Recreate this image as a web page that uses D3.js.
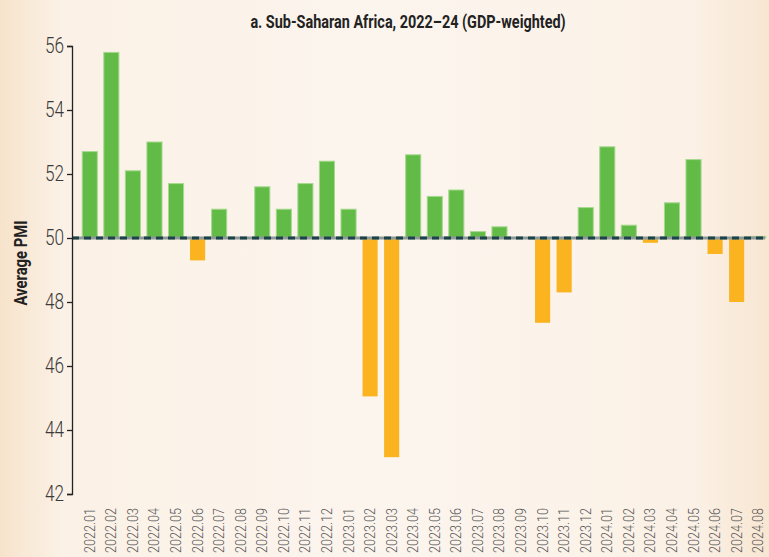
<!DOCTYPE html>
<html lang="en">
<head>
<meta charset="UTF-8">
<script src="https://cdn.jsdelivr.net/npm/d3@7"></script>
<title>Average PMI</title>
<style>
    body { margin: 0; }
    svg text { font-family: Roboto, "Liberation Sans", sans-serif; }
    .y-axis text { font-size: 22px; fill: #3a3a3a; font-weight: 300; }
    .x-label { font-size: 14px; fill: #555; font-weight: 300; }
</style>
</head>
<body>
<div id="chart"></div>
<script>
    const months = ["2022.01","2022.02","2022.03","2022.04","2022.05","2022.06","2022.07","2022.08",
        "2022.09","2022.10","2022.11","2022.12","2023.01","2023.02","2023.03","2023.04",
        "2023.05","2023.06","2023.07","2023.08","2023.09","2023.10","2023.11","2023.12",
        "2024.01","2024.02","2024.03","2024.04","2024.05","2024.06","2024.07","2024.08"];
    const pmi = [52.7, 55.8, 52.1, 53.0, 51.7, 49.3, 50.9, null,
        51.6, 50.9, 51.7, 52.4, 50.9, 45.05, 43.15, 52.6,
        51.3, 51.5, 50.2, 50.35, null, 47.35, 48.3, 50.95,
        52.85, 50.4, 49.85, 51.1, 52.45, 49.5, 48.0, 50.05];
    const yTicks = [42, 44, 46, 48, 50, 52, 54, 56];

    const width = 769, height = 557;
    const threshold = 50;
    const squeeze = 0.78; // stand-in for the condensed face of the original

    const svg = d3.select("#chart").append("svg")
        .attr("width", width)
        .attr("height", height);

    // background tint, warmer at both edges
    const grad = svg.append("defs").append("linearGradient")
        .attr("id", "bg").attr("x1", "0").attr("x2", "1").attr("y1", "0").attr("y2", "0");
    grad.append("stop").attr("offset", "0").attr("stop-color", "#f7e3cb");
    grad.append("stop").attr("offset", "0.08").attr("stop-color", "#fbf1e6");
    grad.append("stop").attr("offset", "0.5").attr("stop-color", "#fcf5ee");
    grad.append("stop").attr("offset", "0.9").attr("stop-color", "#fbf1e6");
    grad.append("stop").attr("offset", "1").attr("stop-color", "#f8e6d2");
    svg.append("rect").attr("width", width).attr("height", height).attr("fill", "url(#bg)");

    const x = d3.scaleBand()
        .domain(months)
        .range([79, 769])
        .paddingInner(0.3)
        .paddingOuter(0.15);

    const y = d3.scaleLinear()
        .domain([42, 56])
        .range([494, 46]);

    // bars
    svg.append("g").selectAll("rect")
        .data(months.map((m, i) => ({ m, v: pmi[i] })).filter(d => d.v !== null))
        .join("rect")
        .attr("x", d => x(d.m))
        .attr("width", x.bandwidth())
        .attr("y", d => y(Math.max(d.v, threshold)))
        .attr("height", d => Math.abs(y(d.v) - y(threshold)))
        .attr("fill", d => d.v >= threshold ? "#62bb46" : "#fbb31f")
        .attr("stroke", d => d.v >= threshold ? "#a6d98f" : "none")
        .attr("stroke-width", 1);

    // 50 reference line
    svg.append("line")
        .attr("x1", 72).attr("x2", 765)
        .attr("y1", y(threshold)).attr("y2", y(threshold))
        .attr("stroke", "#8e9a98").attr("stroke-width", 3);
    svg.append("line")
        .attr("x1", 72).attr("x2", 765)
        .attr("y1", y(threshold)).attr("y2", y(threshold))
        .attr("stroke", "#1c4448").attr("stroke-width", 3)
        .attr("stroke-dasharray", "7,5");

    // y axis
    const yAxis = d3.axisLeft(y).tickValues(yTicks).tickSize(5).tickPadding(5);
    const gy = svg.append("g")
        .attr("class", "y-axis")
        .attr("transform", "translate(72,0)")
        .call(yAxis);
    gy.select(".domain").attr("stroke", "#222").attr("stroke-width", 1.3);
    gy.selectAll(".tick line").attr("stroke", "#222").attr("stroke-width", 1.3);
    gy.selectAll(".tick text")
        .attr("x", -8 / squeeze)
        .attr("dy", "0.3em")
        .attr("transform", `scale(${squeeze},1)`);

    // x labels, rotated
    svg.append("g").selectAll("text")
        .data(months)
        .join("text")
        .attr("class", "x-label")
        .attr("transform", d => `translate(${x(d) + x.bandwidth() / 2 + 5},553) rotate(-90) scale(0.9,1)`)
        .attr("text-anchor", "start")
        .text(d => d);

    svg.append("text")
        .attr("transform", `translate(408,28) scale(${squeeze},1)`)
        .attr("text-anchor", "middle")
        .style("font-size", "18.5px").style("font-weight", "bold").style("fill", "#222")
        .text("a. Sub-Saharan Africa, 2022–24 (GDP-weighted)");

    svg.append("text")
        .attr("transform", `translate(27,263) rotate(-90) scale(${squeeze},1)`)
        .attr("text-anchor", "middle")
        .style("font-size", "19px").style("font-weight", "bold").style("fill", "#222")
        .text("Average PMI");
</script>
</body>
</html>
